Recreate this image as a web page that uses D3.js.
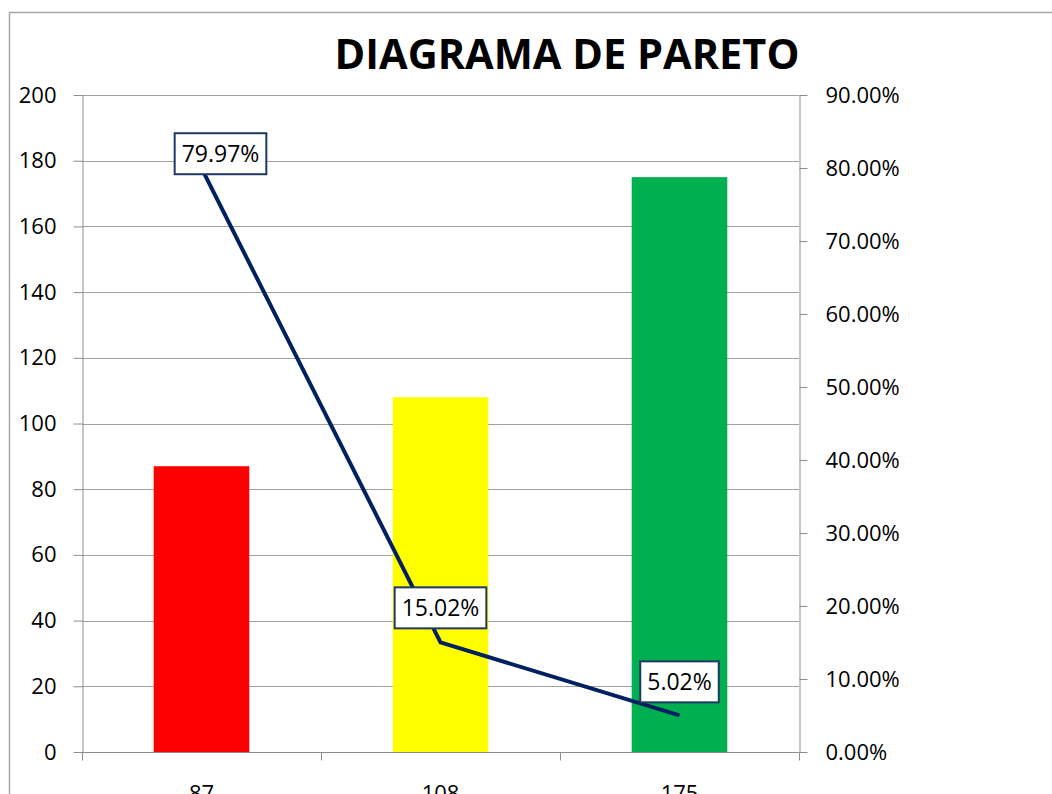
<!DOCTYPE html>
<html>
<head>
<meta charset="utf-8">
<script src="https://cdn.jsdelivr.net/npm/d3@7.9.0/dist/d3.min.js"></script>
<style>
  body { margin: 0; background: #fff; }
  svg { display: block; font-family: "Open Sans", sans-serif; }
</style>
</head>
<body>
<svg width="1052" height="794"></svg>
<script>
// data
const categories = ['87', '108', '175'];
const barValues = [87, 108, 175];
const percentValues = [79.97, 15.02, 5.02];
const barColors = ['#ff0000', '#ffff00', '#00b050'];
const leftTicks = [0, 20, 40, 60, 80, 100, 120, 140, 160, 180, 200];
const rightTicks = [0, 10, 20, 30, 40, 50, 60, 70, 80, 90];

// label nudges (px) for the percent boxes
const labelNudge = [[19, -15], [0, -35], [0, -34]];

const margin = { left: 82, right: 799, top: 95, bottom: 752 };
const svg = d3.select('svg');

// outer chart border
svg.append('rect')
  .attr('x', 9.5).attr('y', 12.5)
  .attr('width', 1100).attr('height', 900)
  .attr('fill', 'none').attr('stroke', '#a6a6a6').attr('stroke-width', 1.5);

const x = d3.scaleBand()
  .domain(categories)
  .range([margin.left, margin.right])
  .paddingInner(0.6)
  .paddingOuter(0.3);

const yLeft = d3.scaleLinear().domain([0, 200]).range([margin.bottom, margin.top]);
const yRight = d3.scaleLinear().domain([0, 90]).range([margin.bottom, margin.top]);

// gridlines
svg.append('g')
  .selectAll('line')
  .data(leftTicks.slice(1))
  .join('line')
  .attr('x1', margin.left).attr('x2', margin.right)
  .attr('y1', d => Math.round(yLeft(d)) + 0.5)
  .attr('y2', d => Math.round(yLeft(d)) + 0.5)
  .attr('stroke', '#a0a0a0');

// bars
svg.append('g')
  .selectAll('rect')
  .data(barValues)
  .join('rect')
  .attr('x', (d, i) => x(categories[i]))
  .attr('width', x.bandwidth())
  .attr('y', d => yLeft(d))
  .attr('height', d => yLeft(0) - yLeft(d))
  .attr('fill', (d, i) => barColors[i]);

// axes
const axisStyle = g => {
  g.select('.domain').attr('stroke', '#8c8c8c');
  g.selectAll('.tick line').attr('stroke', '#8c8c8c');
  g.selectAll('.tick text').attr('fill', '#000').attr('font-size', 22)
    .attr('font-family', '"Open Sans", sans-serif');
};

svg.append('g')
  .attr('transform', `translate(${margin.left + 0.5},0)`)
  .call(d3.axisLeft(yLeft).tickValues(leftTicks).tickSize(9).tickPadding(17).tickSizeOuter(0))
  .call(axisStyle);

svg.append('g')
  .attr('transform', `translate(${margin.right + 0.5},0)`)
  .call(d3.axisRight(yRight).tickValues(rightTicks).tickSize(8).tickPadding(18).tickSizeOuter(0)
    .tickFormat(d => d.toFixed(2) + '%'))
  .call(axisStyle);

// category axis: labels at band centers, ticks at band boundaries
const bottom = svg.append('g')
  .attr('transform', `translate(0,${margin.bottom + 0.5})`)
  .call(d3.axisBottom(x).tickSize(0).tickPadding(33).tickSizeOuter(0))
  .call(axisStyle);
bottom.select('.domain').remove();
bottom.append('line')
  .attr('x1', margin.left).attr('x2', margin.right)
  .attr('stroke', '#8c8c8c');
const bounds = d3.range(categories.length + 1).map(i => margin.left + i * x.step());
bottom.selectAll('.bound')
  .data(bounds)
  .join('line')
  .attr('class', 'bound')
  .attr('x1', d => Math.round(d) + 0.5).attr('x2', d => Math.round(d) + 0.5)
  .attr('y1', 0).attr('y2', 8)
  .attr('stroke', '#8c8c8c');

// cumulative percent line
const cx = (d, i) => x(categories[i]) + x.bandwidth() / 2;
const line = d3.line()
  .x(cx)
  .y(d => yRight(d));

svg.append('path')
  .datum(percentValues)
  .attr('d', line)
  .attr('fill', 'none')
  .attr('stroke', '#002060')
  .attr('stroke-width', 4);

// data labels in boxes
const labels = svg.append('g')
  .selectAll('g')
  .data(percentValues)
  .join('g')
  .attr('transform', (d, i) =>
    `translate(${cx(d, i) + labelNudge[i][0]},${yRight(d) + labelNudge[i][1]})`);

labels.append('text')
  .attr('text-anchor', 'middle')
  .attr('dy', '0.36em')
  .attr('font-size', 23)
  .text(d => d.toFixed(2) + '%');

labels.each(function () {
  const g = d3.select(this);
  const bb = g.select('text').node().getBBox();
  g.insert('rect', 'text')
    .attr('x', bb.x - 7).attr('y', -20)
    .attr('width', bb.width + 14).attr('height', 41)
    .attr('fill', '#fff')
    .attr('stroke', '#1f3864')
    .attr('stroke-width', 2);
});

// title
svg.append('text')
  .attr('x', 567).attr('y', 69)
  .attr('text-anchor', 'middle')
  .attr('font-size', 41.5)
  .attr('font-weight', 'bold')
  .text('DIAGRAMA DE PARETO');
</script>
</body>
</html>
